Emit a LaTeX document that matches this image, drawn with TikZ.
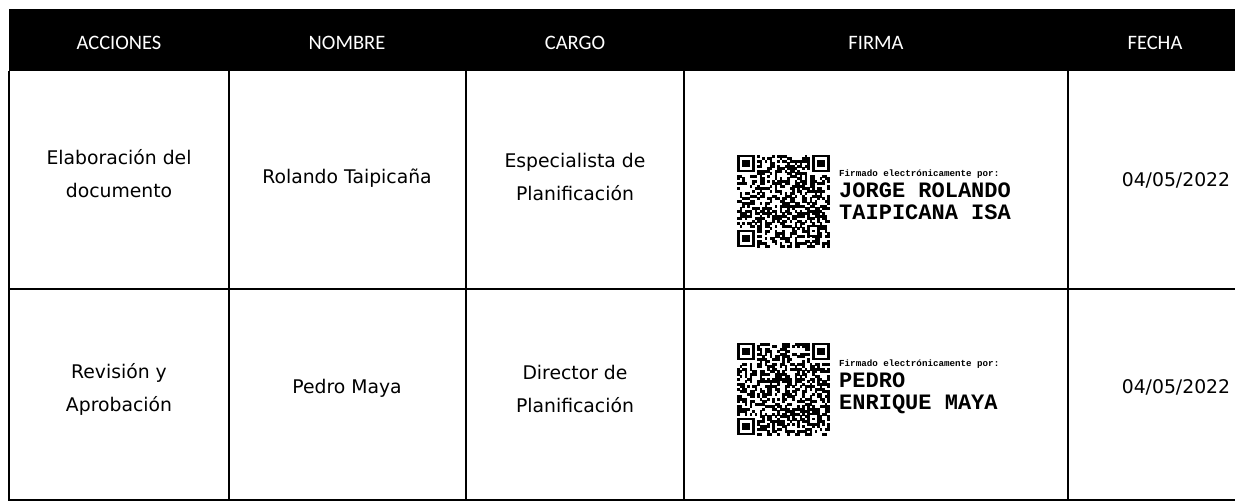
\documentclass[tikz,border=0pt]{standalone}
\usepackage{fontspec}
\setmainfont{DejaVu Sans}
\newfontfamily\hdrfont{Carlito}
\newfontfamily\monofont{Liberation Mono}
\newcommand\myqr[3]{%
  \pgfmathsetseed{#3}%
  \foreach \i in {0,...,36}{%
    \foreach \j in {0,...,36}{%
      \pgfmathtruncatemacro\infd{or(or(and(\i<8,\j<8),and(\i>28,\j<8)),and(\i<8,\j>28))}%
      \pgfmathtruncatemacro\rb{2*rnd}%
      \ifnum\infd=0 \ifnum\rb=1
        \fill (#1+\i*2.5,#2+\j*2.5) rectangle ++(2.55,2.55);
      \fi\fi
    }%
  }%
  \foreach \ox/\oy in {0/0,30/0,0/30}{%
    \fill (#1+\ox*2.5,#2+\oy*2.5) rectangle ++(7*2.5,7*2.5);
    \fill[white] (#1+\ox*2.5+2.5,#2+\oy*2.5+2.5) rectangle ++(5*2.5,5*2.5);
    \fill (#1+\ox*2.5+2*2.5,#2+\oy*2.5+2*2.5) rectangle ++(3*2.5,3*2.5);
  }%
  \fill (#1+28*2.5,#2+28*2.5) rectangle ++(5*2.5,5*2.5);
  \fill[white] (#1+29*2.5,#2+29*2.5) rectangle ++(3*2.5,3*2.5);
  \fill (#1+30*2.5,#2+30*2.5) rectangle ++(2.5,2.5);
}
\tikzset{
  hdr/.style={text=white, font=\hdrfont\fontsize{20.5}{22}\selectfont},
  cell/.style={align=center, font=\fontsize{18.8}{33}\selectfont},
  small/.style={anchor=west, inner sep=0pt, font=\monofont\bfseries\fontsize{9.2}{10}\selectfont},
  big/.style={anchor=north west, inner sep=0pt, align=left, font=\monofont\bfseries\fontsize{22}{22}\selectfont},
  grid/.style={line width=1.4pt}
}
\begin{document}
\begin{tikzpicture}[x=1pt,y=-1pt]
\useasboundingbox (0,0) rectangle (1235,502);
\fill[white] (0,0) rectangle (1235,502);
% header
\fill[black] (9,9) rectangle (1235,71);
\node[hdr] (h1) at (119,43) {ACCIONES};
\node[hdr] (h2) at (347,43) {NOMBRE};
\node[hdr] (h3) at (575,43) {CARGO};
\node[hdr] (h4) at (876,43) {FIRMA};
\node[hdr] (h5) at (1155,43) {FECHA};
% grid
\draw[grid] (9,71) -- (9,500) -- (1235,500);
\draw[grid] (9,289) -- (1235,289);
\foreach \xx in {229,466,684,1068}{\draw[grid] (\xx,71) -- (\xx,500);}
% row 1
\node[cell] (a1) at (119,174) {Elaboración del\\documento};
\node[cell] (n1) at (347,178) {Rolando Taipicaña};
\node[cell] (c1) at (575,177) {Especialista de\\Planificación};
\node[cell] (f1) at (1176,180) {04/05/2022};
\myqr{737}{155}{7}
\node[small] (s1) at (839,174) {Firmado electrónicamente por:};
\node[big] (b1) at (839,183) {JORGE ROLANDO\\TAIPICANA ISA};
% row 2
\node[cell] (a2) at (119,389) {Revisión y\\Aprobación};
\node[cell] (n2) at (347,388) {Pedro Maya};
\node[cell] (c2) at (575,389) {Director de\\Planificación};
\node[cell] (f2) at (1176,387) {04/05/2022};
\myqr{737}{343}{19}
\node[small] (s2) at (839,364) {Firmado electrónicamente por:};
\node[big] (b2) at (839,373) {PEDRO\\ENRIQUE MAYA};
\end{tikzpicture}
\end{document}
